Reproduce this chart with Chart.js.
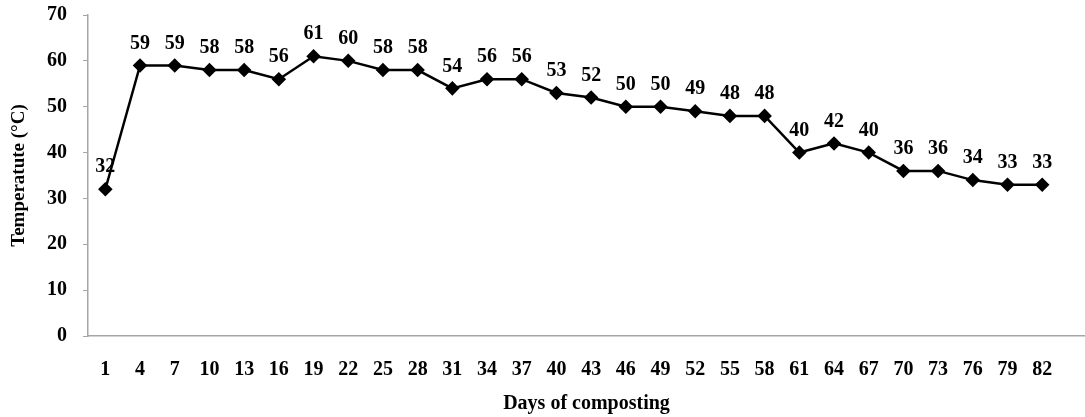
<!DOCTYPE html>
<html>
<head>
<meta charset="utf-8">
<script src="https://cdn.jsdelivr.net/npm/chart.js@4"></script>
<style>
  body { margin: 0; background: #fff; }
  #wrap { width: 1085px; height: 417px; }
</style>
</head>
<body>
<div id="wrap"><canvas id="chart" width="1085" height="417"></canvas></div>
<script>
// composting days and measured temperature
const days = [1, 4, 7, 10, 13, 16, 19, 22, 25, 28, 31, 34, 37, 40, 43, 46, 49, 52, 55, 58, 61, 64, 67, 70, 73, 76, 79, 82];
const temps = [32, 59, 59, 58, 58, 56, 61, 60, 58, 58, 54, 56, 56, 53, 52, 50, 50, 49, 48, 48, 40, 42, 40, 36, 36, 34, 33, 33];
const yTicks = [0, 10, 20, 30, 40, 50, 60, 70];

const serif = "'Liberation Serif', 'Times New Roman', serif";

// writes the value over each point
const valueLabels = {
    id: 'valueLabels',
    afterDatasetsDraw(chart) {
        let ctx = chart.ctx;
        let meta = chart.getDatasetMeta(0);
        ctx.save();
        ctx.font = 'bold 20px ' + serif;
        ctx.fillStyle = '#000';
        ctx.textAlign = 'center';
        ctx.textBaseline = 'middle';
        meta.data.forEach(function (pt, i) {
            ctx.fillText(temps[i], pt.x, pt.y - 22);
        });
        ctx.restore();
    }
};

let ctx = document.getElementById('chart').getContext('2d');

new Chart(ctx, {
    type: 'line',
    data: {
        datasets: [{
            data: days.map(function (d, i) { return {x: d, y: temps[i]}; }),
            borderColor: '#000',
            backgroundColor: '#000',
            borderWidth: 2.5,
            tension: 0,
            pointStyle: 'rectRot',
            pointRadius: 5.5,
            pointBackgroundColor: '#000',
            pointBorderColor: '#000',
            fill: false
        }]
    },
    options: {
        responsive: false,
        animation: false,
        layout: {autoPadding: false, padding: {top: 0, right: 0, bottom: 0, left: 0}},
        plugins: {
            legend: {display: false},
            tooltip: {enabled: false}
        },
        scales: {
            x: {
                type: 'linear',
                min: -0.5,
                max: 85.7,
                afterBuildTicks: function (axis) {
                    axis.ticks = days.map(function (d) { return {value: d}; });
                },
                afterFit: function (axis) { axis.height = 81; },
                grid: {display: true, drawOnChartArea: false, drawTicks: false},
                border: {color: '#a6a6a6', width: 1.5},
                ticks: {
                    color: '#000',
                    padding: 22,
                    maxRotation: 0,
                    autoSkip: false,
                    font: {family: serif, size: 20, weight: 'bold'}
                },
                title: {
                    display: true,
                    text: 'Days of composting',
                    color: '#000',
                    padding: 1,
                    font: {family: serif, size: 20, weight: 'bold'}
                }
            },
            y: {
                min: 0,
                max: 70,
                afterBuildTicks: function (axis) {
                    axis.ticks = yTicks.map(function (v) { return {value: v}; });
                },
                afterFit: function (axis) {
                    axis.width = 88;
                    axis.paddingTop = 15;
                },
                grid: {display: true, drawOnChartArea: false, drawTicks: true, tickLength: 5, color: '#a6a6a6'},
                border: {color: '#a6a6a6', width: 1.5},
                ticks: {
                    color: '#000',
                    padding: 16,
                    font: {family: serif, size: 20, weight: 'bold'}
                },
                title: {
                    display: true,
                    text: 'Temperatute (°C)',
                    color: '#000',
                    padding: 8,
                    font: {family: serif, size: 19, weight: 'bold'}
                }
            }
        }
    },
    plugins: [valueLabels]
});
</script>
</body>
</html>
